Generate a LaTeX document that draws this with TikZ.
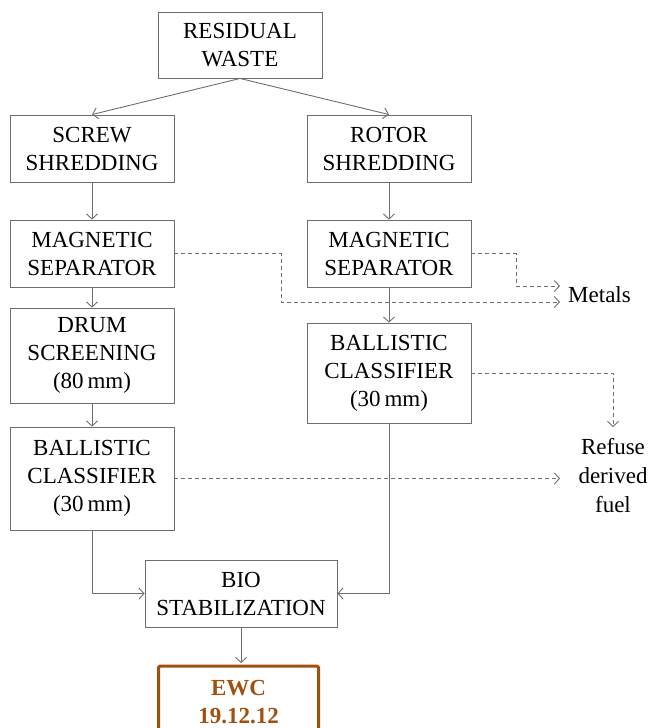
\documentclass[tikz,border=0pt]{standalone}
\usepackage{fontspec}
\setmainfont{Liberation Serif}
\usetikzlibrary{arrows.meta}
\definecolor{ln}{RGB}{110,110,110}
\definecolor{ewc}{RGB}{160,80,15}
\begin{document}
\begin{tikzpicture}[x=1pt,y=-1pt,
 box/.style={draw=ln,line width=0.9pt,minimum width=164pt,inner sep=0pt,align=center,font=\fontsize{23}{28}\selectfont},
 flow/.style={draw=ln,line width=0.9pt,-{Straight Barb[length=5pt,width=11pt]}},
 outflow/.style={flow,dash pattern=on 4pt off 3pt},
 lbl/.style={align=center,inner sep=0pt,font=\fontsize{23}{29}\selectfont}]
\useasboundingbox (0,0) rectangle (649,728);
\node[box,minimum height=66pt] (rw) at (240,45) {RESIDUAL\\WASTE};
\node[box,minimum height=67pt] (ss) at (92,148.5) {SCREW\\SHREDDING};
\node[box,minimum height=67pt] (rs) at (389,148.5) {ROTOR\\SHREDDING};
\node[box,minimum height=67pt] (ml) at (92,253.5) {MAGNETIC\\SEPARATOR};
\node[box,minimum height=67pt] (mr) at (389,253.5) {MAGNETIC\\SEPARATOR};
\node[box,minimum height=95pt] (dr) at (92,355.5) {DRUM\\SCREENING\\(80\,mm)};
\node[box,minimum height=100pt] (br) at (389,373) {BALLISTIC\\CLASSIFIER\\(30\,mm)};
\node[box,minimum height=103pt] (bl) at (92,478.5) {BALLISTIC\\CLASSIFIER\\(30\,mm)};
\node[box,minimum width=192pt,minimum height=67pt] (bio) at (241,593.5) {BIO\\STABILIZATION};
\node[draw=ewc,line width=3pt,rounded corners=1.5pt,minimum width=160pt,text=ewc,
  font=\bfseries\fontsize{23}{28}\selectfont,align=center,inner xsep=0pt,inner ysep=14pt,anchor=north] (ewc) at (238.5,664.5) {EWC\\19.12.12};
\node[lbl,anchor=west] (met) at (568,295) {Metals};
\node[lbl] (rdf) at (613,476) {Refuse\\derived\\fuel};
\coordinate (m1) at (560,286);
\coordinate (m2) at (560,302);
\coordinate (r1) at (613,427);
\coordinate (r2) at (560,478.5);
% solid flow
\draw[flow] (rw.south) -- (ss.north);
\draw[flow] (rw.south) -- (rs.north);
\draw[flow] (ss) -- (ml);
\draw[flow] (rs) -- (mr);
\draw[flow] (ml) -- (dr);
\draw[flow] (dr) -- (bl);
\draw[flow] (mr) -- (br);
\draw[flow] (bl.south) |- (bio.west);
\draw[flow] (br.south) |- (bio.east);
\draw[flow] (bio.south) -- ([yshift=1.5pt]bio.south |- ewc.north);
% dashed outputs
\draw[outflow] (ml.east) -- ++(107,0) |- (m2);
\draw[outflow] (mr.east) -- ++(45,0) |- (m1);
\draw[outflow] (br.east) -| (r1);
\draw[outflow] (bl.east) -- (r2);
\end{tikzpicture}
\end{document}
